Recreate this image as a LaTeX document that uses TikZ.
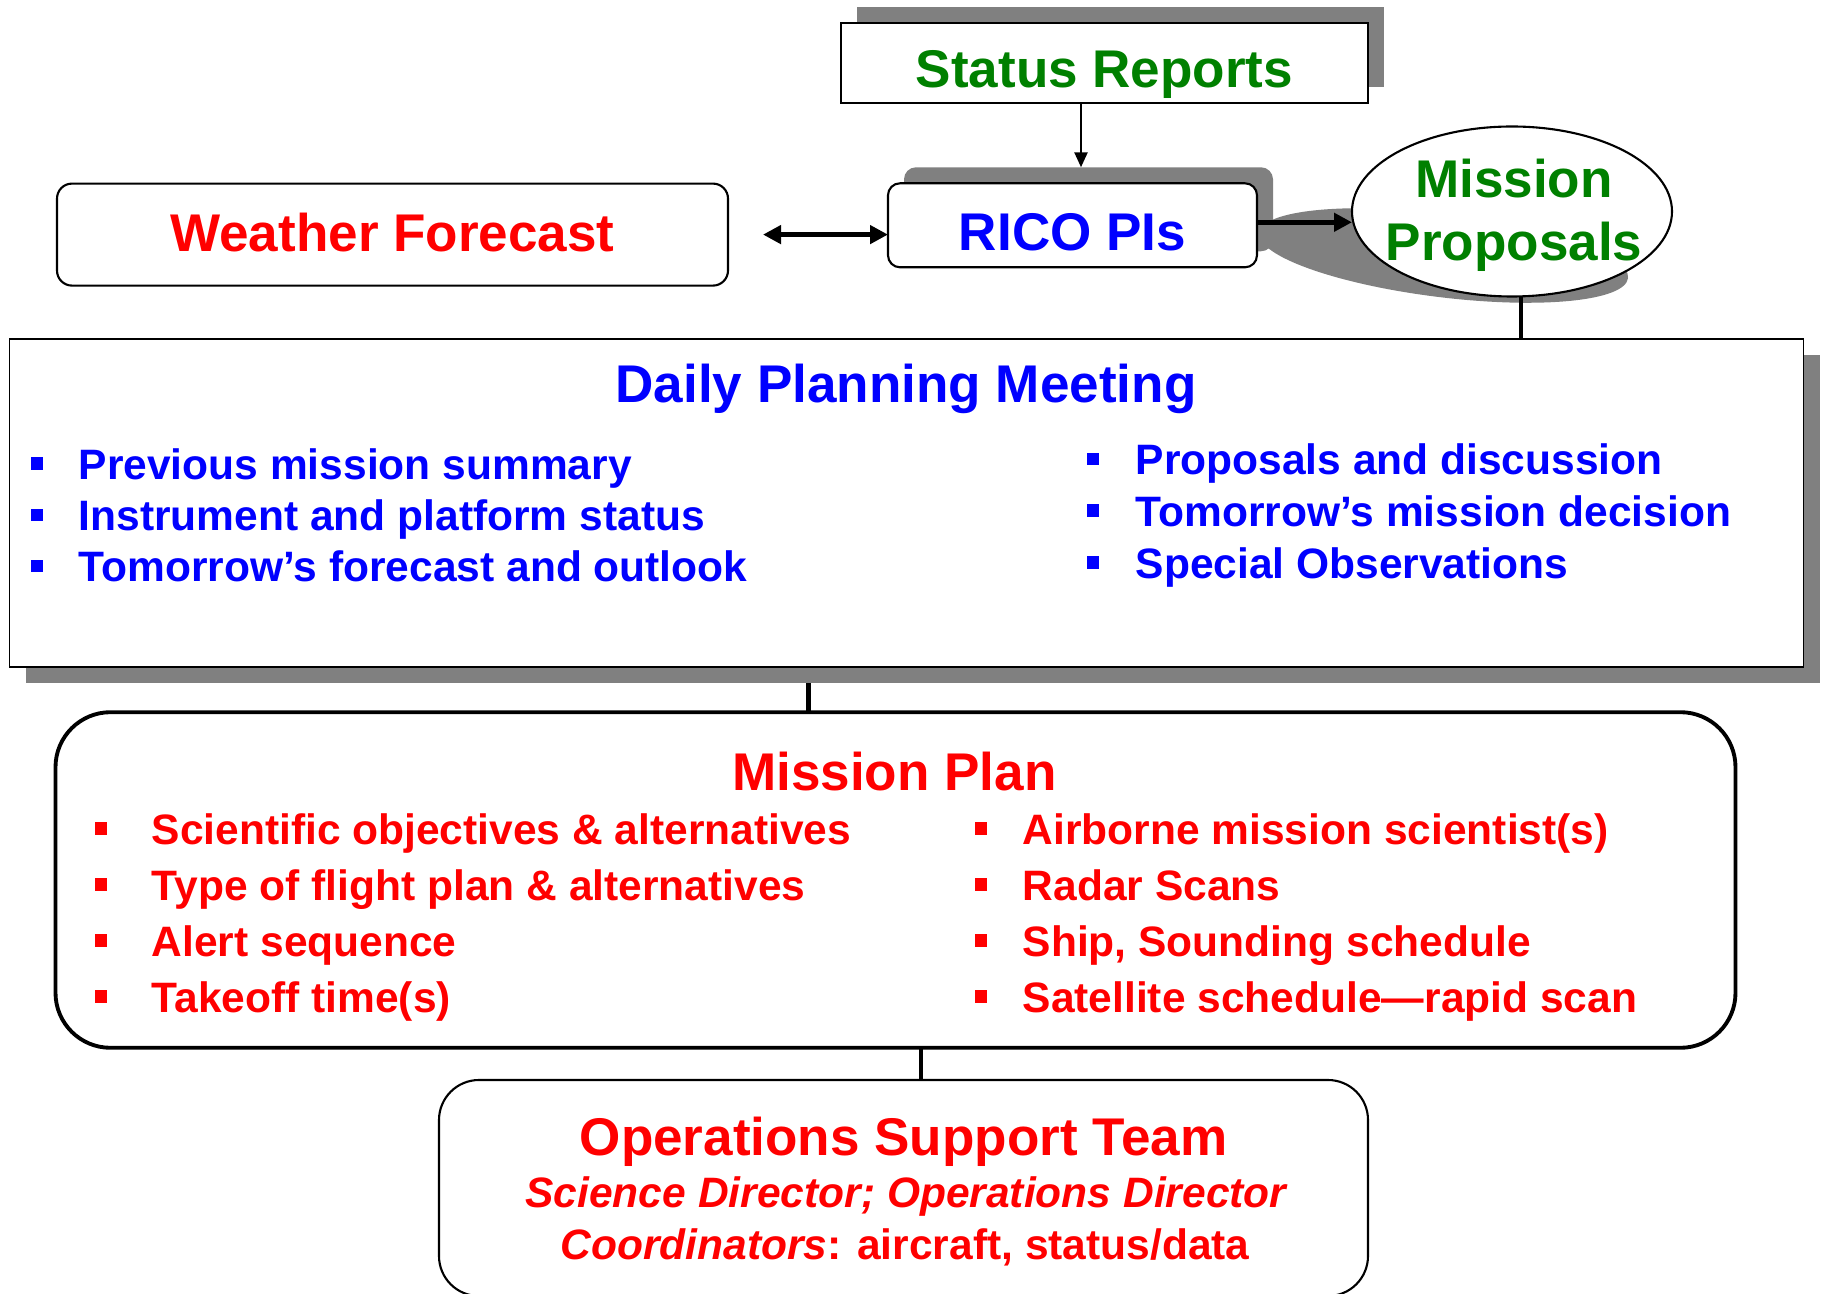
\documentclass[tikz,border=0pt]{standalone}
\usepackage{fontspec}
\setmainfont{Liberation Sans}
\usetikzlibrary{shapes.geometric,shadows,arrows.meta,backgrounds}

\definecolor{fcblue}{RGB}{0,0,255}
\definecolor{fcred}{RGB}{255,0,0}
\definecolor{fcgreen}{RGB}{0,128,0}
\definecolor{shadegray}{RGB}{128,128,128}

\begin{document}
\begin{tikzpicture}[
  >={Triangle[length=1.5mm,width=1.3mm]},
  box/.style={draw=black, fill=white, line width=0.6pt, inner sep=0pt, outer sep=0pt},
  shadeup/.style={drop shadow={shadow xshift=1.6mm, shadow yshift=1.6mm, fill=shadegray, opacity=1}},
  shadedown/.style={drop shadow={shadow xshift=1.6mm, shadow yshift=-1.6mm, fill=shadegray, opacity=1}},
  headtext/.style={font=\fontsize{15.1}{18}\selectfont\bfseries, inner sep=0pt, anchor=base},
  subtext/.style={font=\fontsize{12.1}{14.4}\selectfont\bfseries, inner sep=0pt, anchor=base},
  itemtext/.style={font=\fontsize{12.1}{14.4}\selectfont\bfseries, inner sep=0pt, anchor=base west},
  sqbullet/.style={minimum size=1.25mm, inner sep=0pt},
  link/.style={line width=1.2pt},
  bigtip/.style={line width=1.3pt, >={Triangle[length=1.8mm,width=1.8mm]}}
]
  \useasboundingbox (0,0) rectangle (18.21,-12.94);

  % -------- top row: status, PIs, forecast --------
  \node[box, shadeup, line width=0.7pt, minimum width=5.27cm, minimum height=0.80cm] (sr) at (11.045,-0.63) {};
  \node[headtext, text=fcgreen] (srtext) at (11.045,-0.871) {Status Reports};

  \node[box, shadeup, rounded corners=1.2mm, minimum width=3.69cm, minimum height=0.84cm] (rico) at (10.725,-2.253) {};
  \node[headtext, text=fcblue] (ricotext) at (10.725,-2.509) {RICO PIs};

  \node[box, rounded corners=1.5mm, minimum width=6.71cm, minimum height=1.02cm] (wf) at (3.925,-2.346) {};
  \node[headtext, text=fcred] (wftext) at (3.925,-2.520) {Weather Forecast};

  % -------- proposals ellipse --------
  \node[box, ellipse, minimum width=3.20cm, minimum height=1.70cm] (prop) at (15.12,-2.115) {};
  \node[headtext, text=fcgreen] (propa) at (15.14,-1.974) {Mission};
  \node[headtext, text=fcgreen] (propb) at (15.14,-2.602) {Proposals};

  \coordinate (srfoot) at ([xshift=-2.35mm]sr.south);
  \coordinate (ricotop) at ([yshift=1.6mm]rico.north);
  \draw[->, line width=0.7pt] (srfoot) -- (srfoot |- ricotop);
  \draw[<->, bigtip] ([xshift=3.5mm]wf.east) -- (wf.east -| rico.west);
  \draw[->, bigtip] ([yshift=0.3mm]rico.east) -- ([yshift=0.3mm]rico.east -| prop.west);

  % -------- daily planning meeting --------
  \node[box, shadedown, line width=0.5pt, minimum width=17.94cm, minimum height=3.28cm] (dpm) at (9.066,-5.03) {};
  \node[headtext, text=fcblue] (dpmtitle) at (9.06,-4.03) {Daily Planning Meeting};

  \foreach \txt [count=\i] in {Previous mission summary, Instrument and platform status, Tomorrow’s forecast and outlook} {
    \pgfmathsetmacro\yb{-4.797-0.511*(\i-1)}
    \node[sqbullet, fill=fcblue] (dlb\i) at ({0.37},{\yb+0.16}) {};
    \node[itemtext, text=fcblue] (dlt\i) at ({0.78},{\yb}) {\txt};
  }
  \foreach \txt [count=\i] in {Proposals and discussion, Tomorrow’s mission decision, Special Observations} {
    \pgfmathsetmacro\yb{-4.750-0.517*(\i-1)}
    \node[sqbullet, fill=fcblue] (drb\i) at ({10.93},{\yb+0.16}) {};
    \node[itemtext, text=fcblue] (drt\i) at ({11.35},{\yb}) {\txt};
  }

  % -------- mission plan --------
  \node[box, rounded corners=5.5mm, line width=1.1pt, minimum width=16.80cm, minimum height=3.356cm] (mp) at (8.955,-8.80) {};
  \node[headtext, text=fcred] (mptitle) at (8.943,-7.909) {Mission Plan};

  \foreach \txt [count=\i] in {Scientific objectives \& alternatives, Type of flight plan \& alternatives, Alert sequence, Takeoff time(s)} {
    \pgfmathsetmacro\yb{-8.443-0.561*(\i-1)}
    \node[sqbullet, fill=fcred] (mlb\i) at ({1.01},{\yb+0.16}) {};
    \node[itemtext, text=fcred] (mlt\i) at ({1.51},{\yb}) {\txt};
  }
  \foreach \txt [count=\i] in {Airborne mission scientist(s), Radar Scans, {Ship, Sounding schedule}, Satellite schedule—rapid scan} {
    \pgfmathsetmacro\yb{-8.443-0.561*(\i-1)}
    \node[sqbullet, fill=fcred] (mrb\i) at ({9.81},{\yb+0.16}) {};
    \node[itemtext, text=fcred] (mrt\i) at ({10.22},{\yb}) {\txt};
  }

  % -------- operations support team --------
  \node[box, rounded corners=4mm, minimum width=9.29cm, minimum height=2.16cm] (ost) at (9.035,-11.88) {};
  \node[headtext, text=fcred] (osttitle) at (9.036,-11.556) {Operations Support Team};
  \node[subtext, text=fcred] (ostdir) at (9.06,-12.078) {\itshape Science Director; Operations Director};
  \node[subtext, text=fcred] (ostcoord) at (9.05,-12.590) {{\itshape Coordinators}: aircraft, status/data};

  % -------- connectors and ellipse shadow behind --------
  \begin{scope}[on background layer]
    \fill[shadegray, rotate around={-7:(14.436,-2.555)}] (14.436,-2.555) ellipse (1.858 and 0.418);
    \draw[link] ([xshift=0.9mm]prop.south) -- ([xshift=0.9mm]prop.south |- dpm.north);
    \draw[link] ([xshift=-9.8mm]dpm.south) -- ([xshift=-9.8mm]dpm.south |- mp.north);
    \draw[link] ([xshift=2.55mm]mp.south) -- ([xshift=2.55mm]mp.south |- ost.north);
  \end{scope}
\end{tikzpicture}
\end{document}
